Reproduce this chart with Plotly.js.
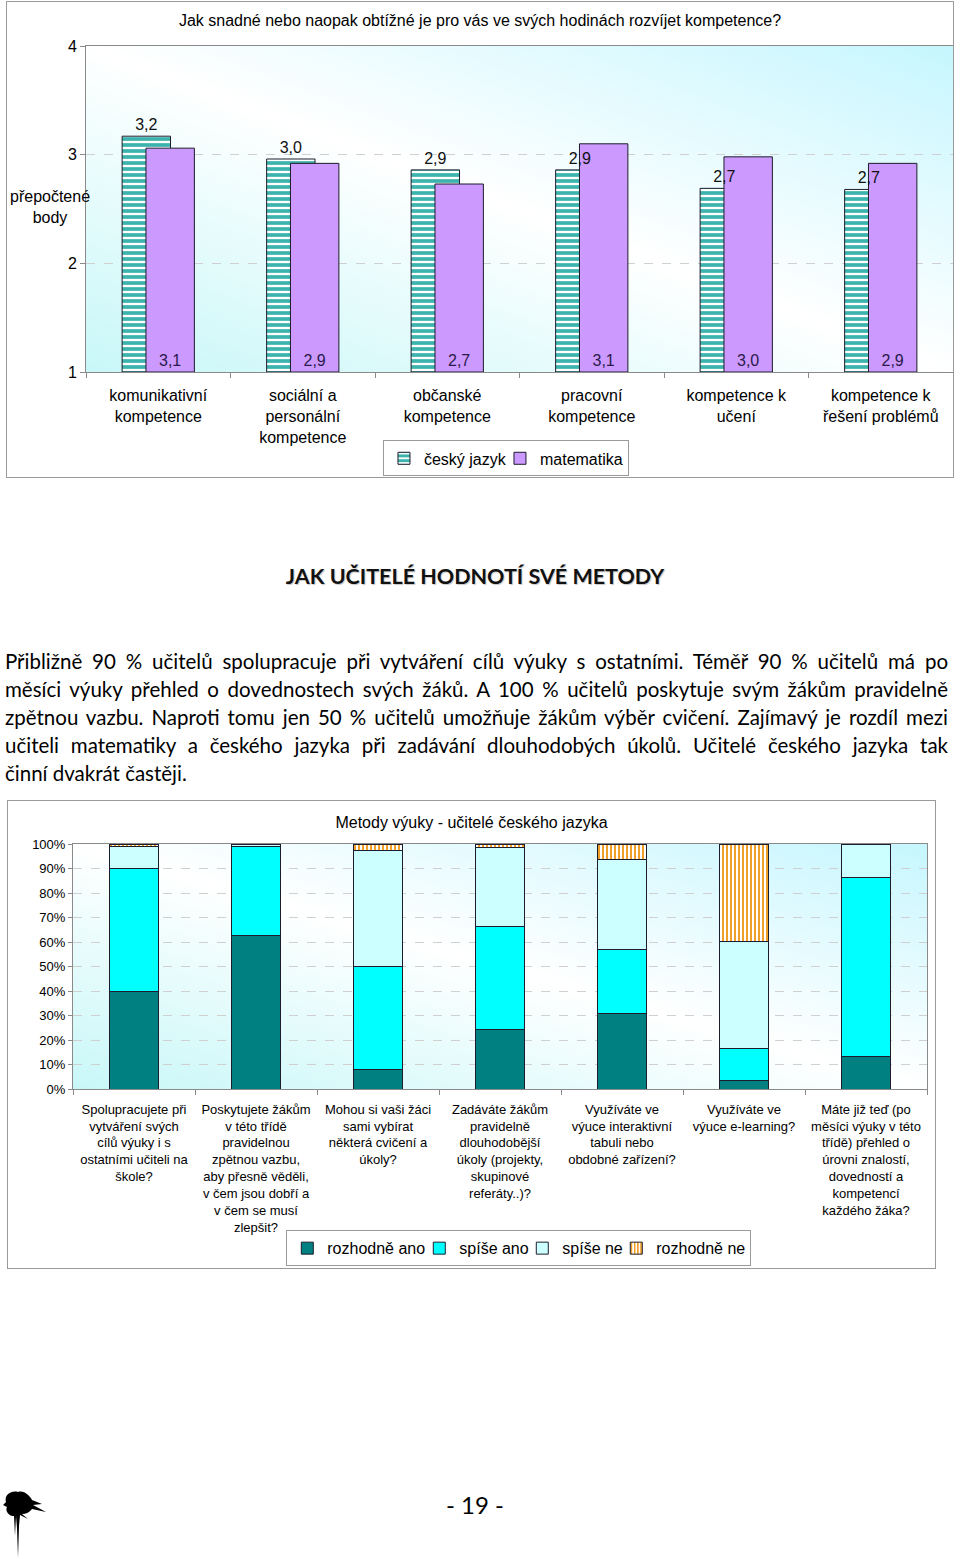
<!DOCTYPE html>
<html>
<head>
<meta charset="utf-8">
<script src="https://cdn.plot.ly/plotly-3.0.1.min.js"></script>
<style>
  html, body { margin:0; padding:0; background:#fff; }
  body { width:960px; height:1559px; position:relative; overflow:hidden; font-family:"Liberation Sans", Arial, sans-serif; }
  #chart1 { position:absolute; left:7px; top:2px; width:946px; height:475px; outline:1px solid #9a9a9a; }
  #chart2 { position:absolute; left:8px; top:801px; width:927px; height:467px; outline:1px solid #9a9a9a; }
  #heading { position:absolute; left:0; width:950px; top:563px; text-align:center; font-family:Lato, sans-serif; font-weight:bold; font-size:21.5px; color:#111; text-shadow:1px 1px 1px #c8c8c8; }
  #para { position:absolute; left:5px; width:943px; top:647px; font-family:Lato, sans-serif; font-size:20.5px; line-height:28px; color:#000; }
  #para div { text-align:justify; text-align-last:justify; white-space:nowrap; }
  #para div.last { text-align-last:left; }
  #footer { position:absolute; left:0; width:950px; top:1490px; text-align:center; font-family:Lato, sans-serif; font-size:24px; color:#000; }
  #ink { position:absolute; left:2px; top:1488px; }
</style>
</head>
<body>
<div id="chart1"></div>
<div id="heading">JAK UČITELÉ HODNOTÍ SVÉ METODY</div>
<div id="para">
  <div>Přibližně 90 % učitelů spolupracuje při vytváření cílů výuky s ostatními. Téměř 90 % učitelů má po</div>
  <div>měsíci výuky přehled o dovednostech svých žáků. A 100 % učitelů poskytuje svým žákům pravidelně</div>
  <div>zpětnou vazbu. Naproti tomu jen 50 % učitelů umožňuje žákům výběr cvičení. Zajímavý je rozdíl mezi</div>
  <div>učiteli matematiky a českého jazyka při zadávání dlouhodobých úkolů. Učitelé českého jazyka tak</div>
  <div class="last">činní dvakrát častěji.</div>
</div>
<div id="chart2"></div>
<svg id="ink" width="48" height="71" viewBox="0 0 48 71">
  <path d="M4,14 C2,8 8,2 16,4 C22,2 28,8 30,12 L40,16 L31,17 L44,24 L30,21 C28,24 24,26 20,26 L26,31 L18,27 L17,38 L16,70 L15,40 L14,28 L13,48 L12,28 C6,28 3,22 5,19 L1,17 Z" fill="#000"/>
</svg>
<div id="footer">- 19 -</div>

<script>
// ---------- Chart 1 data ----------
const topCategories = [
  'komunikativní<br>kompetence',
  'sociální a<br>personální<br>kompetence',
  'občanské<br>kompetence',
  'pracovní<br>kompetence',
  'kompetence k<br>učení',
  'kompetence k<br>řešení problémů'
];
const ceskyJazyk = [3.17, 2.96, 2.86, 2.86, 2.69, 2.68];
const matematika = [3.06, 2.92, 2.73, 3.10, 2.98, 2.92];
const topTitle = 'Jak snadné nebo naopak obtížné je pro vás ve svých hodinách rozvíjet kompetence?';
const topYLabel = 'přepočtené<br>body';
const topYTicks = [1, 2, 3, 4];
const topAxisMin = 1;   // bars rise from the axis minimum, as in the original

// ---------- Chart 2 data ----------
const methodCategories = [
  'Spolupracujete při<br>vytváření svých<br>cílů výuky i s<br>ostatními učiteli na<br>škole?',
  'Poskytujete žákům<br>v této třídě<br>pravidelnou<br>zpětnou vazbu,<br>aby přesně věděli,<br>v čem jsou dobří a<br>v čem se musí<br>zlepšit?',
  'Mohou si vaši žáci<br>sami vybírat<br>některá cvičení a<br>úkoly?',
  'Zadáváte žákům<br>pravidelně<br>dlouhodobější<br>úkoly (projekty,<br>skupinové<br>referáty..)?',
  'Využíváte ve<br>výuce interaktivní<br>tabuli nebo<br>obdobné zařízení?',
  'Využíváte ve<br>výuce e-learning?',
  'Máte již teď (po<br>měsíci výuky v této<br>třídě) přehled o<br>úrovni znalostí,<br>dovedností a<br>kompetencí<br>každého žáka?'
];
const rozhodneAno = [40.0, 62.7, 7.8, 24.4, 30.9, 3.4, 13.2];
const spiseAno    = [50.0, 36.3, 42.3, 41.8, 26.2, 13.0, 73.2];
const spiseNe     = [9.0, 1.0, 47.1, 32.3, 36.4, 43.9, 13.6];
const rozhodneNe  = [1.0, 0.0, 2.8, 1.5, 6.5, 39.7, 0.0];
const methodTitle = 'Metody výuky - učitelé českého jazyka';
const seriesNames = ['rozhodně ano', 'spíše ano', 'spíše ne', 'rozhodně ne'];

// ---------- shared styles ----------
const FONT = '"Liberation Sans", Arial, sans-serif';
function gradientImage() {
  const svg = "<svg xmlns='http://www.w3.org/2000/svg' width='100' height='100' viewBox='0 0 100 100' preserveAspectRatio='none'>" +
    "<defs><linearGradient id='g' x1='1' y1='0' x2='0' y2='1'>" +
    "<stop offset='0' stop-color='#c6f6fe'/><stop offset='0.5' stop-color='#ffffff'/><stop offset='1' stop-color='#c8f7f8'/>" +
    "</linearGradient></defs><rect width='100' height='100' fill='url(#g)'/></svg>";
  return 'data:image/svg+xml;charset=utf-8,' + encodeURIComponent(svg);
}
const bgImage = {
  source: gradientImage(), xref: 'paper', yref: 'paper', x: 0, y: 1,
  sizex: 1, sizey: 1, sizing: 'stretch', xanchor: 'left', yanchor: 'top', layer: 'below'
};
const barLine = { color: '#1c1c2c', width: 1 };
const fromAxis = arr => arr.map(v => v - topAxisMin);

// legend entry widths (px) kept compact like the original legend boxes
const legendWidths1 = [71, 83];
const legendWidths2 = [87, 58, 49, 89];

// ---------- Chart 1 ----------
const tCesky = {
  type: 'bar', name: 'český jazyk', x: topCategories, y: fromAxis(ceskyJazyk), base: topAxisMin,
  offset: -0.25, width: 0.335, legendwidth: legendWidths1[0],
  marker: { color: '#ffffff', line: barLine,
    pattern: { shape: '-', fgcolor: '#3db3ad', bgcolor: '#ffffff', size: 6, solidity: 0.62 } },
  hoverinfo: 'skip'
};
const tMat = {
  type: 'bar', name: 'matematika', x: topCategories, y: fromAxis(matematika), base: topAxisMin,
  offset: -0.085, width: 0.335, legendwidth: legendWidths1[1],
  customdata: matematika,
  marker: { color: '#cc99ff', line: barLine },
  texttemplate: '%{customdata:.1f}', textposition: 'inside', insidetextanchor: 'start',
  constraintext: 'none',
  textfont: { family: FONT, size: 16, color: '#2a1a4c' },
  hoverinfo: 'skip'
};
// labels of the Czech series, drawn above both series (as in the original)
const tCeskyLabels = {
  type: 'bar', name: 'český jazyk', showlegend: false, x: topCategories, y: fromAxis(ceskyJazyk), base: topAxisMin,
  offset: -0.25, width: 0.335,
  customdata: ceskyJazyk,
  marker: { color: 'rgba(0,0,0,0)', line: { width: 0 } },
  texttemplate: '%{customdata:.1f}', textposition: 'outside', cliponaxis: false, constraintext: 'none',
  textfont: { family: FONT, size: 16, color: '#111' },
  hoverinfo: 'skip'
};
const layout1 = {
  width: 946, height: 475,
  margin: { l: 79, r: 0, t: 44, b: 105, pad: 0, autoexpand: false },
  paper_bgcolor: '#ffffff', plot_bgcolor: 'rgba(0,0,0,0)',
  separators: ', ',
  font: { family: FONT, size: 16, color: '#000' },
  barmode: 'overlay',
  showlegend: true,
  title: { text: topTitle, font: { family: FONT, size: 16, color: '#000' },
    xref: 'container', x: 0.5, xanchor: 'center', yref: 'container', y: 0.962, yanchor: 'middle' },
  xaxis: { type: 'category', range: [-0.5, 5.5], tickson: 'boundaries', ticks: 'outside', ticklen: 5,
    tickcolor: '#8a8a8a', showline: true, linecolor: '#8a8a8a', linewidth: 1, mirror: true, automargin: false,
    showgrid: false, tickfont: { family: FONT, size: 16, color: '#000' }, ticklabelstandoff: 9 },
  yaxis: { range: [1, 4], tickvals: topYTicks, ticks: 'outside', ticklen: 5, tickcolor: '#8a8a8a',
    showline: true, linecolor: '#8a8a8a', linewidth: 1, mirror: true, zeroline: false, automargin: false,
    gridcolor: '#d0d0d0', griddash: 'dash', tickfont: { family: FONT, size: 16, color: '#000' } },
  legend: { orientation: 'h', x: 0.4844, xanchor: 'center', y: -0.265, yanchor: 'middle',
    bordercolor: '#9a9a9a', borderwidth: 1, bgcolor: '#ffffff',
    font: { family: FONT, size: 16, color: '#000' }, itemclick: false, itemdoubleclick: false },
  annotations: [{ text: topYLabel, xref: 'paper', yref: 'paper', x: -0.0415, y: 0.506,
    xanchor: 'center', yanchor: 'middle', showarrow: false, font: { family: FONT, size: 16, color: '#000' } }],
  images: [bgImage]
};
Plotly.newPlot('chart1', [tCesky, tMat, tCeskyLabels], layout1, { displayModeBar: false, staticPlot: true });

// ---------- Chart 2 ----------
const colors2 = ['#008080', '#00ffff', '#ccffff', '#ffffff'];
const series2 = [rozhodneAno, spiseAno, spiseNe, rozhodneNe];
const traces2 = series2.map((vals, i) => {
  const marker = { color: colors2[i], line: barLine };
  if (i === 3) {
    marker.pattern = { shape: '|', fgcolor: '#f0a028', bgcolor: '#ffffff', size: 4, solidity: 0.5 };
  }
  return { type: 'bar', name: seriesNames[i], x: methodCategories, y: vals, marker: marker,
    legendwidth: legendWidths2[i], hoverinfo: 'skip' };
});
const layout2 = {
  width: 927, height: 467,
  margin: { l: 65.3, r: 8.3, t: 42.7, b: 178.7, pad: 0, autoexpand: false },
  paper_bgcolor: '#ffffff', plot_bgcolor: 'rgba(0,0,0,0)',
  font: { family: FONT, size: 13, color: '#000' },
  barmode: 'stack', bargap: 0.6,
  showlegend: true,
  title: { text: methodTitle, font: { family: FONT, size: 16, color: '#000' },
    xref: 'container', x: 0.5, xanchor: 'center', yref: 'container', y: 0.955, yanchor: 'middle' },
  xaxis: { type: 'category', range: [-0.5, 6.5], tickson: 'boundaries', ticks: 'outside', ticklen: 5,
    tickcolor: '#8a8a8a', showline: true, linecolor: '#8a8a8a', linewidth: 1, mirror: true, automargin: false,
    showgrid: false, tickfont: { family: FONT, size: 13, color: '#000' }, ticklabelstandoff: 8 },
  yaxis: { range: [0, 100], dtick: 10, ticksuffix: '%', ticks: 'outside', ticklen: 4, tickcolor: '#8a8a8a',
    showline: true, linecolor: '#8a8a8a', linewidth: 1, mirror: true, zeroline: false, automargin: false,
    gridcolor: '#d0d0d0', griddash: 'dash', tickfont: { family: FONT, size: 13, color: '#000' } },
  legend: { orientation: 'h', x: 0.522, xanchor: 'center', y: -0.65, yanchor: 'middle', traceorder: 'normal',
    bordercolor: '#9a9a9a', borderwidth: 1, bgcolor: '#ffffff',
    font: { family: FONT, size: 16, color: '#000' }, itemclick: false, itemdoubleclick: false },
  images: [bgImage]
};
Plotly.newPlot('chart2', traces2, layout2, { displayModeBar: false, staticPlot: true });
</script>
</body>
</html>
